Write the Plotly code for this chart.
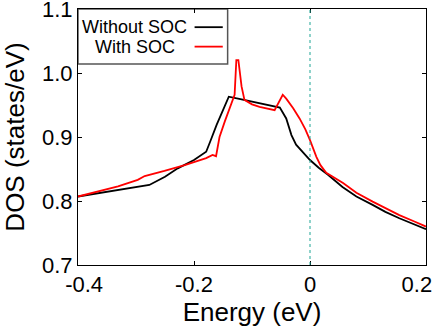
import plotly.graph_objects as go

# DOS near the Fermi level
energy_nosoc = [-0.400, -0.343, -0.308, -0.277, -0.250, -0.228, -0.200, -0.179, -0.172, -0.167,
                -0.161, -0.150, -0.140, -0.120, -0.100, -0.087, -0.070, -0.052, -0.041, -0.032,
                -0.024, -0.012, 0.000, 0.015, 0.031, 0.056, 0.080, 0.108, 0.130, 0.154, 0.180, 0.200]
dos_nosoc = [0.807, 0.815, 0.820, 0.825, 0.838, 0.851, 0.864, 0.877, 0.893, 0.906,
             0.919, 0.942, 0.963, 0.959, 0.955, 0.953, 0.950, 0.946, 0.929, 0.903,
             0.888, 0.876, 0.864, 0.852, 0.841, 0.822, 0.807, 0.794, 0.783, 0.773, 0.763, 0.756]

energy_soc = [-0.400, -0.366, -0.331, -0.297, -0.285, -0.251, -0.216, -0.179, -0.168, -0.162,
              -0.156, -0.147, -0.136, -0.130, -0.127, -0.1235, -0.118, -0.113, -0.100, -0.087,
              -0.061, -0.055, -0.047, -0.041, -0.029, -0.018, -0.008, 0.000, 0.011, 0.018,
              0.028, 0.057, 0.080, 0.108, 0.130, 0.154, 0.180, 0.200]
dos_soc = [0.807, 0.815, 0.823, 0.833, 0.839, 0.847, 0.856, 0.867, 0.872, 0.870,
           0.900, 0.924, 0.953, 0.966, 1.020, 1.020, 0.979, 0.958, 0.951, 0.947,
           0.942, 0.953, 0.966, 0.960, 0.945, 0.929, 0.912, 0.895, 0.869, 0.856,
           0.844, 0.828, 0.813, 0.799, 0.789, 0.778, 0.768, 0.760]

series_names = ["Without SOC", "With SOC"]
series_colors = ["#000000", "#ff0000"]

x_ticks = [-0.4, -0.2, 0.0, 0.2]
# padded so the end labels sit inside the canvas, as in the original
x_ticktext = ["&nbsp;&nbsp;-0.4", "-0.2", "0", "0.2&nbsp;&nbsp;&nbsp;"]
y_ticks = [0.7, 0.8, 0.9, 1.0, 1.1]

FONT = "Liberation Sans, Arial, sans-serif"

fig = go.Figure()
fig.add_trace(go.Scatter(x=energy_nosoc, y=dos_nosoc, mode="lines", name=series_names[0],
                         line=dict(color=series_colors[0], width=1.8), showlegend=False))
fig.add_trace(go.Scatter(x=energy_soc, y=dos_soc, mode="lines", name=series_names[1],
                         line=dict(color=series_colors[1], width=1.8), showlegend=False))

# Fermi level
fig.add_shape(type="line", xref="x", yref="paper", x0=0, x1=0, y0=0, y1=1,
              line=dict(color="#1fa595", width=1, dash="3px,3px"))

# gnuplot-style legend box: centred labels, line sample on the right
fig.add_shape(type="rect", xref="paper", yref="paper", x0=0, x1=0.430, y0=0.785, y1=1,
              line=dict(color="#555555", width=1.5), fillcolor="white", layer="below")
for name, color, yy in zip(series_names, series_colors, [0.929, 0.853]):
    fig.add_annotation(xref="paper", yref="paper", x=0.1636, y=yy, text=name, showarrow=False,
                       xanchor="center", yanchor="middle", font=dict(size=18, color="black", family=FONT))
    fig.add_shape(type="line", xref="paper", yref="paper", x0=0.335, x1=0.416, y0=yy, y1=yy,
                  line=dict(color=color, width=1.8))

axis_common = dict(showline=True, linecolor="black", linewidth=1, mirror="ticks",
                   ticks="inside", ticklen=4, tickcolor="black", showgrid=False, zeroline=False,
                   automargin=False, ticklabeloverflow="allow",
                   tickfont=dict(size=22, color="black", family=FONT))

fig.update_xaxes(range=[-0.4, 0.2], tickvals=x_ticks, ticktext=x_ticktext,
                 title=dict(text="Energy (eV)", font=dict(size=26, color="black", family=FONT), standoff=0),
                 **axis_common)
fig.update_yaxes(range=[0.7, 1.1], tickvals=y_ticks, tickformat=".1f",
                 title=dict(text="DOS (states/eV)", font=dict(size=26, color="black", family=FONT), standoff=19),
                 **axis_common)

fig.update_layout(width=436, height=328, margin=dict(l=78, r=10, t=9, b=63),
                  plot_bgcolor="white", paper_bgcolor="white", showlegend=False)

# drop the browser's default body margin so the figure sits at the window's corner
fig.write_html("out.html", config={"displayModeBar": False},
               post_script="document.body.style.margin='0';")
